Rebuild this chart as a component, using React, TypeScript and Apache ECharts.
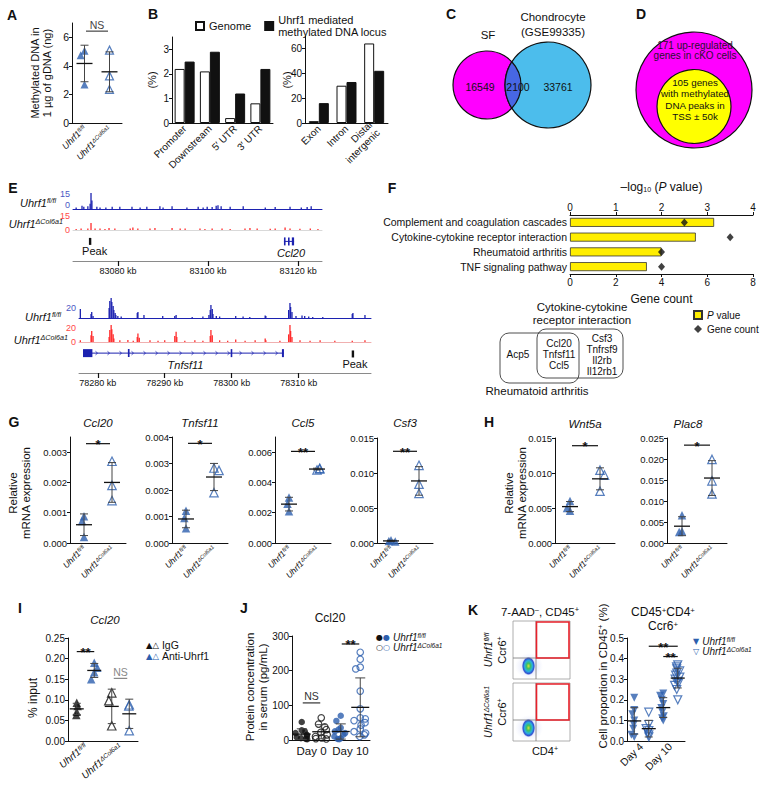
import React, { useEffect, useRef } from 'react';
import * as echarts from 'echarts';

const FONT = '"Liberation Sans", Arial, Helvetica, sans-serif';
const SYMFONT = '"DejaVu Sans", "Liberation Sans", sans-serif';
const INK = '#111111';
const BLUE = '#2d5fae';
const TRACK_BLUE = '#1c22b0';
const TRACK_RED = '#ff2b2b';

/* ---------- Panel A ---------- */
const genotypes = ['fl', 'cko'];
const methylDnaFl = [5.05, 4.75, 2.7];
const methylDnaCko = [5.1, 3.3, 2.35];

/* ---------- Panel B ---------- */
const regionsB1 = ['Promoter', 'Downstream', '5′ UTR', '3′ UTR'];
const genomeB1 = [2.2, 2.1, 0.2, 0.8];
const methylB1 = [2.5, 2.9, 1.2, 2.2];
const regionsB2 = ['Exon', 'Intron', 'Distal\nintergenic'];
const genomeB2 = [1.5, 30, 64];
const methylB2 = [16, 33, 42];
const METH_NAME = 'Uhrf1 mediated\nmethylated DNA locus';

/* ---------- Panel C / D ---------- */
const vennSfOnly = 16549;
const vennShared = 2100;
const vennChondroOnly = 33761;
const upGenesCount = 171;
const methGenesCount = 105;

/* ---------- Panel E (tracks: [kb, signal]) ---------- */
const ccl20FlTrack: [number, number][] = [
  [83070.7, 1.5], [83072.0, 3], [83072.4, 2], [83073.3, 2.5], [83073.8, 5], [83074.0, 15], [83074.2, 8],
  [83075.3, 2], [83076.0, 1.5], [83077.3, 1.5], [83078.7, 2], [83080.4, 2], [83083.1, 2], [83084.9, 1.5],
  [83086.4, 2], [83089.3, 2.5], [83090.0, 1.5], [83092.0, 2.5], [83095.3, 1.5], [83097.8, 2], [83098.9, 1.5],
  [83099.8, 2], [83100.9, 1.8], [83101.8, 3], [83102.2, 3.5], [83102.9, 2.5], [83104.9, 2], [83107.8, 2.5],
  [83112.7, 1.5], [83114.9, 1.8], [83118.2, 2], [83120.7, 1.5], [83122.0, 1.8], [83122.9, 2.5],
];
const ccl20CkoTrack: [number, number][] = [
  [83070.7, 1], [83071.8, 1.5], [83073.3, 1.5], [83074.0, 7], [83074.9, 1.5], [83076.0, 1.5], [83077.1, 1],
  [83078.0, 2], [83079.3, 1.5], [83082.7, 1.5], [83083.3, 2.5], [83084.4, 1.5], [83087.1, 1.5], [83088.2, 2],
  [83092.0, 2], [83093.8, 1.5], [83094.9, 1.5], [83098.2, 1.5], [83099.3, 1], [83100.9, 1.5], [83103.1, 1.5],
  [83104.9, 1], [83108.2, 1.5], [83109.3, 2], [83110.9, 1.5], [83113.8, 1.2], [83114.9, 1.5], [83117.1, 2.5],
  [83118.2, 1.5], [83120.4, 1.2], [83122.7, 1.5], [83124.4, 1],
];
const tnfsf11FlTrack: [number, number][] = [
  [78277.4, 9], [78279.0, 4], [78279.1, 6], [78279.3, 2],
  [78281.7, 10], [78281.8, 17], [78282.0, 20], [78282.1, 16], [78282.3, 12], [78282.4, 8], [78282.6, 5], [78282.7, 3],
  [78283.0, 2], [78283.5, 1.5], [78285.9, 5], [78286.0, 6], [78286.9, 3], [78289.7, 2], [78291.5, 2], [78291.7, 3],
  [78294.1, 1], [78295.7, 1.5], [78296.6, 3], [78296.8, 8], [78296.9, 13], [78297.1, 9], [78297.2, 4], [78297.7, 2],
  [78298.2, 1.5], [78300.6, 2], [78301.7, 1.5], [78302.7, 1], [78305.0, 2.5], [78305.1, 2],
  [78308.5, 8], [78308.7, 15], [78308.8, 11], [78309.0, 6], [78309.6, 2], [78310.5, 2.5], [78310.9, 2],
  [78311.5, 1.5], [78312.1, 1], [78313.6, 1], [78318.0, 4], [78318.1, 5], [78319.9, 3],
];
const tnfsf11CkoTrack: [number, number][] = [
  [78277.4, 2], [78279.0, 8], [78279.1, 13], [78279.3, 7],
  [78281.7, 6], [78281.8, 14], [78282.0, 20], [78282.1, 15], [78282.3, 9], [78282.4, 4],
  [78283.3, 2], [78284.5, 2.5], [78285.3, 1.5], [78285.9, 6], [78286.0, 10], [78286.2, 5],
  [78287.8, 2], [78289.0, 1.5], [78290.0, 2], [78291.5, 7], [78291.7, 12], [78291.8, 6],
  [78293.0, 1.5], [78294.5, 2], [78295.7, 1.5], [78296.8, 7], [78296.9, 14], [78297.1, 8],
  [78298.2, 2], [78299.4, 1.5], [78300.6, 3], [78302.0, 1.5], [78303.5, 2], [78305.0, 4], [78305.1, 2],
  [78307.2, 1.5], [78308.5, 9], [78308.7, 20], [78308.8, 13], [78309.0, 6],
  [78310.2, 2], [78311.7, 1.5], [78313.2, 2], [78315.4, 1.5], [78318.0, 1.5], [78319.9, 2],
];
const ccl20Gene = { name: 'Ccl20', start: 83116.85, end: 83119.1, exons: [[83116.85, 83117.05], [83117.75, 83117.95], [83118.6, 83119.1]] };
const tnfsf11Gene = { name: 'Tnfsf11', start: 78277.8, end: 78307.8, exons: [[78277.8, 78279.2], [78284.5, 78284.75], [78299.85, 78300.05], [78307.5, 78307.8]] };
const ccl20Peak = 83073.8;
const tnfsf11Peak = 78318.1;
const ccl20Ticks = [83080, 83100, 83120];
const tnfsf11Ticks = [78280, 78290, 78300, 78310];

/* ---------- Panel F ---------- */
const pathways = ['Complement and coagulation cascades', 'Cytokine-cytokine receptor interaction', 'Rheumatoid arthritis', 'TNF signaling pathway'];
const negLogP = [3.15, 2.75, 2.0, 1.68];
const geneCounts = [5, 7, 4, 4];
const raOnlyGenes = ['Acp5'];
const sharedGenes = ['Ccl20', 'Tnfsf11', 'Ccl5'];
const cytokineOnlyGenes = ['Csf3', 'Tnfrsf9', 'Il2rb', 'Il12rb1'];

/* ---------- Panel G ---------- */
const gGenes = ['Ccl20', 'Tnfsf11', 'Ccl5', 'Csf3'];
const gFl = [[0.00088, 0.00073, 0.0002], [0.00122, 0.00094, 0.00056], [0.003, 0.0026, 0.0021], [0.0004, 0.0003, 0.0002]];
const gCko = [[0.0027, 0.0019, 0.0014], [0.00283, 0.00274, 0.0019], [0.00482, 0.0049, 0.00493], [0.0111, 0.0084, 0.0071]];
const gSig = ['*', '*', '**', '**'];
const gSigY = [0.00328, 0.00376, 0.00605, 0.0131];
const gMax = [0.0035, 0.004, 0.007, 0.015];
const gTicks = [[0, 0.001, 0.002, 0.003], [0, 0.001, 0.002, 0.003, 0.004], [0, 0.002, 0.004, 0.006], [0, 0.005, 0.01, 0.015]];

/* ---------- Panel H ---------- */
const hGenes = ['Wnt5a', 'Plac8'];
const hFl = [[0.006, 0.0046, 0.005], [0.0066, 0.0028, 0.0026]];
const hCko = [[0.0104, 0.0097, 0.0074], [0.0199, 0.0148, 0.0117]];
const hSig = ['*', '*'];
const hSigY = [0.0139, 0.0233];
const hMax = [0.015, 0.025];
const hTicks = [[0, 0.005, 0.01, 0.015], [0, 0.005, 0.01, 0.015, 0.02, 0.025]];

/* ---------- Panel I ---------- */
const iIgGFl = [0.093, 0.085, 0.071, 0.063];
const iAntiFl = [0.19, 0.178, 0.167, 0.15];
const iIgGCko = [0.117, 0.098, 0.037];
const iAntiCko = [0.088, 0.085, 0.025];
const iTicks = [0, 0.05, 0.1, 0.15, 0.2, 0.25];

/* ---------- Panel J ---------- */
const jDays = ['Day 0', 'Day 10'];
const jDay0Fl = [52, 28, 25, 20, 15, 12, 8, 5, 3, 2];
const jDay0Cko = [64, 46, 38, 30, 22, 15, 10, 6, 4, 3];
const jDay10Fl = [70, 55, 35, 30, 25, 20, 15, 10, 5, 3, 2];
const jDay10Cko = [253, 233, 210, 205, 141, 90, 64, 61, 56, 50, 43, 32, 24, 20, 15, 10];
const jTicks = [0, 100, 200, 300];

/* ---------- Panel K ---------- */
const kDays = ['Day 4', 'Day 10'];
const kDay4Fl = [0.21, 0.15, 0.13, 0.1, 0.08, 0.06, 0.03, 0.02];
const kDay4Cko = [0.14, 0.08, 0.06, 0.05, 0.04, 0.03, 0.02];
const kDay10Fl = [0.23, 0.22, 0.2, 0.18, 0.16, 0.14, 0.12, 0.11, 0.1];
const kDay10Cko = [0.37, 0.36, 0.35, 0.34, 0.33, 0.32, 0.31, 0.3, 0.29, 0.28, 0.27, 0.25, 0.2];
const kTicks = [0, 0.1, 0.2, 0.3, 0.4, 0.5];

/* ---------- helpers ---------- */
const mean = (a: number[]) => a.reduce((s, v) => s + v, 0) / a.length;
const sd = (a: number[]) => {
  const m = mean(a);
  return Math.sqrt(a.reduce((s, v) => s + (v - m) * (v - m), 0) / (a.length - 1));
};
const genoLabel = (v: string) => (v === 'fl' ? '{i|Uhrf1}{s|fl/fl}' : '{i|Uhrf1}{s|ΔCol6a1}');

/* Venn lens shape */
const sfCircle = { cx: 487, cy: 85, r: 34 };
const chCircle = { cx: 548, cy: 85, r: 43 };
(() => {
  const dd = chCircle.cx - sfCircle.cx;
  const a = (dd * dd + sfCircle.r * sfCircle.r - chCircle.r * chCircle.r) / (2 * dd);
  const h = Math.sqrt(sfCircle.r * sfCircle.r - a * a);
  const ix = sfCircle.cx + a;
  const d = `M ${ix} ${sfCircle.cy - h} A ${chCircle.r} ${chCircle.r} 0 0 0 ${ix} ${sfCircle.cy + h} A ${sfCircle.r} ${sfCircle.r} 0 0 0 ${ix} ${sfCircle.cy - h} Z`;
  echarts.graphic.registerShape('vennLens', echarts.graphic.extendPath(d, {}) as any);
})();

function buildOption() {
  const grid: any[] = [];
  const xAxis: any[] = [];
  const yAxis: any[] = [];
  const series: any[] = [];
  const graphic: any[] = [];

  const G = (left: number, top: number, width: number, height: number) => {
    grid.push({ left, top, width, height });
    return grid.length - 1;
  };
  const X = (o: any) => {
    xAxis.push(o);
    return xAxis.length - 1;
  };
  const Y = (o: any) => {
    yAxis.push(o);
    return yAxis.length - 1;
  };

  const valueY = (gi: number, max: number, ticks: number[], fmt: (v: number) => string, fs = 10) =>
    Y({
      type: 'value', gridIndex: gi, min: 0, max,
      axisLine: { show: true, lineStyle: { color: INK, width: 1 } },
      axisTick: { show: true, length: 3, customValues: ticks, lineStyle: { color: INK } },
      axisLabel: { customValues: ticks, formatter: fmt, fontSize: fs, color: INK, margin: 3, fontFamily: FONT },
      splitLine: { show: false },
    });

  const genoAxisLabel = (fs: number, rotate = 45) => ({
    interval: 0, rotate, fontSize: fs, margin: 4, formatter: genoLabel, color: INK,
    rich: {
      i: { fontStyle: 'italic', fontSize: fs, fontFamily: FONT, color: INK },
      s: { fontStyle: 'italic', fontSize: fs * 0.65, fontFamily: FONT, color: INK, verticalAlign: 'top' },
    },
  });

  const catX = (gi: number, data: string[], axisLabel: any, extra: any = {}) =>
    X({
      type: 'category', gridIndex: gi, data, position: 'bottom',
      axisLine: { show: true, lineStyle: { color: INK, width: 1 } },
      axisTick: { show: false }, splitLine: { show: false },
      axisLabel: { interval: 0, color: INK, fontFamily: FONT, ...axisLabel },
      ...extra,
    });
  const hiddenCat = (gi: number, jitter: number) =>
    X({ type: 'category', gridIndex: gi, position: 'bottom', data: ['a', 'b', 'c', 'd'], show: false, jitter, jitterOverlap: false, jitterMargin: 0.3 });

  const dots = (xi: number, yi: number, cat: number, values: number[], o: any) =>
    series.push({
      type: 'scatter', xAxisIndex: xi, yAxisIndex: yi, silent: true, z: 3,
      symbol: o.symbol, symbolSize: o.size, symbolRotate: o.rotate || 0,
      itemStyle: o.open ? { color: 'rgba(255,255,255,0)', borderColor: o.color, borderWidth: 1.2 } : { color: o.color },
      data: values.map((v) => [cat, v]),
    });

  const errBar = (xi: number, yi: number, cat: number, values: number[], halfMean: number, halfCap: number) =>
    series.push({
      type: 'custom', xAxisIndex: xi, yAxisIndex: yi, silent: true, z: 4, clip: false,
      data: [[cat, mean(values), sd(values)]],
      encode: { x: 0, y: 1 },
      renderItem: (_p: any, api: any) => {
        const x = api.value(0), m = api.value(1), s = api.value(2);
        const c = api.coord([x, m]);
        const t = api.coord([x, m + s]);
        const b = api.coord([x, m - s]);
        const st = { stroke: '#444', lineWidth: 1 };
        return {
          type: 'group',
          children: [
            { type: 'line', shape: { x1: c[0], y1: t[1], x2: c[0], y2: b[1] }, style: st },
            { type: 'line', shape: { x1: c[0] - halfCap, y1: t[1], x2: c[0] + halfCap, y2: t[1] }, style: st },
            { type: 'line', shape: { x1: c[0] - halfCap, y1: b[1], x2: c[0] + halfCap, y2: b[1] }, style: st },
            { type: 'line', shape: { x1: c[0] - halfMean, y1: c[1], x2: c[0] + halfMean, y2: c[1] }, style: { stroke: INK, lineWidth: 1.3 } },
          ],
        };
      },
    });

  const sigBar = (xi: number, yi: number, x1: number, x2: number, yv: number, text: string, color: string, inset: number) =>
    series.push({
      type: 'custom', xAxisIndex: xi, yAxisIndex: yi, silent: true, z: 5, clip: false,
      data: [[x1, x2, yv]],
      encode: { x: [0, 1], y: 2 },
      renderItem: (_p: any, api: any) => {
        const p1 = api.coord([api.value(0), api.value(2)]);
        const p2 = api.coord([api.value(1), api.value(2)]);
        const star = text.indexOf('*') >= 0;
        return {
          type: 'group',
          children: [
            { type: 'line', shape: { x1: p1[0] + inset, y1: p1[1], x2: p2[0] - inset, y2: p2[1] }, style: { stroke: color, lineWidth: 1.2 } },
            {
              type: 'text', x: (p1[0] + p2[0]) / 2, y: p1[1] + (star ? 1 : -6.5),
              style: { text, fill: color, fontSize: star ? 13 : 10.5, fontWeight: star ? 'bold' : 'normal', fontFamily: FONT, align: 'center', verticalAlign: 'middle' },
            },
          ],
        };
      },
    });

  const T = (x: number, y: number, text: string, o: any = {}) => {
    const { rotation, ...style } = o;
    graphic.push({
      type: 'text', x, y, rotation: rotation || 0, silent: true, z: 10,
      style: { text, fill: INK, fontSize: 11, fontFamily: FONT, align: 'center', verticalAlign: 'middle', ...style },
    });
  };
  const gRich = (fs: number) => ({
    i: { fontStyle: 'italic', fontSize: fs, fill: INK, fontFamily: FONT },
    s: { fontStyle: 'italic', fontSize: fs * 0.65, fill: INK, fontFamily: FONT, verticalAlign: 'top' },
    sup: { fontSize: fs * 0.65, fill: INK, fontFamily: FONT, verticalAlign: 'top' },
    n: { fontSize: fs, fill: INK, fontFamily: FONT },
    sk: { fontSize: fs * 0.8, fill: INK, fontFamily: SYMFONT },
    sb: { fontSize: fs * 0.8, fill: BLUE, fontFamily: SYMFONT },
  });

  /* panel letters */
  const letters: [string, number, number][] = [
    ['A', 12, 15], ['B', 153, 14], ['C', 451, 14], ['D', 641, 14], ['E', 13, 188], ['F', 392, 188],
    ['G', 14, 422], ['H', 489, 422], ['I', 20, 608], ['J', 244, 608], ['K', 473, 610],
  ];
  letters.forEach(([l, x, y]) => T(x, y, l, { fontSize: 14, fontWeight: 'bold' }));

  /* ===== A ===== */
  const gA = G(72, 23, 50, 100);
  const xA = catX(gA, genotypes, genoAxisLabel(9), { jitter: 12, jitterOverlap: false, jitterMargin: 0.5 });
  const yA = valueY(gA, 7, [0, 2, 4, 6], (v) => String(v), 10.5);
  dots(xA, yA, 0, methylDnaFl, { symbol: 'triangle', size: 8, color: BLUE });
  dots(xA, yA, 1, methylDnaCko, { symbol: 'triangle', size: 8, color: BLUE, open: true });
  errBar(xA, yA, 0, methylDnaFl, 8, 4);
  errBar(xA, yA, 1, methylDnaCko, 8, 4);
  sigBar(xA, yA, 0, 1, 6.43, 'NS', '#444', 1.5);
  T(41, 73, 'Methylated DNA in\n1 µg of gDNA (ng)', { rotation: Math.PI / 2, fontSize: 11, lineHeight: 12.5 });

  /* ===== B ===== */
  const gB1 = G(172, 37, 101, 86);
  const xB1 = catX(gB1, regionsB1, { rotate: 45, fontSize: 10, margin: 4 });
  const yB1 = valueY(gB1, 3.5, [0, 1, 2, 3], (v) => String(v), 10);
  const gB2 = G(305, 36, 83, 87);
  const xB2 = catX(gB2, regionsB2, { rotate: 45, fontSize: 10, margin: 4, lineHeight: 11 });
  const yB2 = valueY(gB2, 70, [0, 20, 40, 60], (v) => String(v), 10);
  [[xB1, yB1, genomeB1, methylB1], [xB2, yB2, genomeB2, methylB2]].forEach(([xi, yi, gd, md]: any) => {
    series.push({ type: 'bar', name: 'Genome', xAxisIndex: xi, yAxisIndex: yi, data: gd, barWidth: 10, barGap: '0%', silent: true, itemStyle: { color: '#ffffff', borderColor: INK, borderWidth: 1 } });
    series.push({ type: 'bar', name: METH_NAME, xAxisIndex: xi, yAxisIndex: yi, data: md, barWidth: 10, barGap: '0%', silent: true, itemStyle: { color: INK, borderColor: INK, borderWidth: 1 } });
  });
  T(152, 80, '(%)', { rotation: Math.PI / 2, fontSize: 11 });
  T(287, 80, '(%)', { rotation: Math.PI / 2, fontSize: 11 });

  /* ===== C ===== */
  graphic.push({ type: 'circle', silent: true, shape: { ...sfCircle }, style: { fill: '#ff00ff', stroke: INK, lineWidth: 1.2 } });
  graphic.push({ type: 'circle', silent: true, shape: { ...chCircle }, style: { fill: '#4cbdec', stroke: INK, lineWidth: 1.2 } });
  graphic.push({ type: 'vennLens', silent: true, x: 0, y: 0, style: { fill: '#4767e4', stroke: INK, lineWidth: 1.2 } });
  T(488, 35, 'SF', { fontSize: 11.5 });
  T(553, 17, 'Chondrocyte', { fontSize: 11.5 });
  T(553, 32, '(GSE99335)', { fontSize: 11.5 });
  T(480, 87, String(vennSfOnly), { fontSize: 10.5 });
  T(518, 87, String(vennShared), { fontSize: 10.5 });
  T(558, 87, String(vennChondroOnly), { fontSize: 10.5 });

  /* ===== D ===== */
  graphic.push({ type: 'circle', silent: true, shape: { cx: 694, cy: 90, r: 58 }, style: { fill: '#ff00ff', stroke: INK, lineWidth: 1.2 } });
  graphic.push({ type: 'circle', silent: true, shape: { cx: 694, cy: 106.5, r: 37 }, style: { fill: '#ffff00', stroke: INK, lineWidth: 1.2 } });
  T(695, 45, `${upGenesCount} up-regulated`, { fontSize: 10, fill: '#2a1030' });
  T(695, 55.5, 'genes in cKO cells', { fontSize: 10, fill: '#2a1030' });
  T(695, 82, `${methGenesCount} genes`, { fontSize: 9.8 });
  T(695, 93.5, 'with methylated', { fontSize: 9.8 });
  T(695, 105, 'DNA peaks in', { fontSize: 9.8 });
  T(695, 116.5, 'TSS ± 50k', { fontSize: 9.8 });

  /* ===== E ===== */
  const track = (left: number, top: number, width: number, height: number, min: number, max: number, ymax: number, data: [number, number][], color: string, baseColor: string, labelColor: string, zeroUp: number, maxDown: number) => {
    const gi = G(left, top, width, height);
    const xi = X({ type: 'value', gridIndex: gi, min, max, axisLine: { show: true, onZero: false, lineStyle: { color: baseColor, width: 1 } }, axisTick: { show: false }, axisLabel: { show: false }, splitLine: { show: false } });
    const yi = Y({
      type: 'value', gridIndex: gi, min: 0, max: ymax, axisLine: { show: false }, axisTick: { show: false }, splitLine: { show: false },
      axisLabel: {
        customValues: [0, ymax], color: labelColor, fontSize: 9, margin: 3, fontFamily: FONT,
        formatter: (v: number) => (v === 0 ? '{z|0}' : `{m|${v}}`),
        rich: {
          z: { lineHeight: 10 + 2 * zeroUp, verticalAlign: 'top', fontSize: 9, color: labelColor, fontFamily: FONT },
          m: { lineHeight: 10 + 2 * maxDown, verticalAlign: 'bottom', fontSize: 9, color: labelColor, fontFamily: FONT },
        },
      },
    });
    series.push({ type: 'bar', xAxisIndex: xi, yAxisIndex: yi, data, barWidth: 1.3, silent: true, itemStyle: { color } });
  };
  const geneGrid = (left: number, top: number, width: number, height: number, min: number, max: number, ticks: number[]) => {
    const gi = G(left, top, width, height);
    const xi = X({
      type: 'value', gridIndex: gi, min, max,
      axisLine: { show: true, onZero: false, lineStyle: { color: '#8a8a8a', width: 1 } },
      axisTick: { show: true, customValues: ticks, length: 5, lineStyle: { color: INK, width: 1.2 } },
      axisLabel: { customValues: ticks, formatter: (v: number) => `${v} kb`, fontSize: 9, color: INK, margin: 5, fontFamily: FONT },
      splitLine: { show: false },
    });
    const yi = Y({ type: 'value', gridIndex: gi, min: 0, max: 1, show: false });
    return { xi, yi };
  };
  const geneSeries = (xi: number, yi: number, gene: any, yv: number, arrows: boolean) =>
    series.push({
      type: 'custom', xAxisIndex: xi, yAxisIndex: yi, silent: true, clip: false,
      data: [[gene.start, gene.end, yv]], encode: { x: [0, 1], y: 2 },
      renderItem: (_p: any, api: any) => {
        const p0 = api.coord([api.value(0), api.value(2)]);
        const p1 = api.coord([api.value(1), api.value(2)]);
        const children: any[] = [{ type: 'line', shape: { x1: p0[0], y1: p0[1], x2: p1[0], y2: p1[1] }, style: { stroke: TRACK_BLUE, lineWidth: 1 } }];
        gene.exons.forEach(([s, e]: number[]) => {
          const a = api.coord([s, api.value(2)])[0];
          const b = api.coord([e, api.value(2)])[0];
          children.push({ type: 'rect', shape: { x: a, y: p0[1] - 4, width: Math.max(1.6, b - a), height: 8 }, style: { fill: TRACK_BLUE } });
        });
        if (arrows) {
          for (let x = p0[0] + 14; x < p1[0] - 4; x += 12) {
            children.push({ type: 'polyline', shape: { points: [[x - 1.5, p0[1] - 1.8], [x + 0.5, p0[1]], [x - 1.5, p0[1] + 1.8]] }, style: { stroke: TRACK_BLUE, lineWidth: 0.8, fill: 'none' } });
          }
        }
        children.push({ type: 'text', x: (p0[0] + p1[0]) / 2 + 2, y: p0[1] + 12, style: { text: gene.name, fontStyle: 'italic', fontSize: 11, fill: INK, fontFamily: FONT, align: 'center', verticalAlign: 'middle' } });
        return { type: 'group', children };
      },
    });
  const peakSeries = (xi: number, yi: number, kb: number, yv: number, textAlign: string, dx: number) =>
    series.push({
      type: 'custom', xAxisIndex: xi, yAxisIndex: yi, silent: true, clip: false,
      data: [[kb, yv]], encode: { x: 0, y: 1 },
      renderItem: (_p: any, api: any) => {
        const c = api.coord([api.value(0), api.value(1)]);
        return {
          type: 'group',
          children: [
            { type: 'rect', shape: { x: c[0] - 1.2, y: c[1] - 3.5, width: 2.4, height: 7 }, style: { fill: INK } },
            { type: 'text', x: c[0] + dx, y: c[1] + 10, style: { text: 'Peak', fontSize: 11, fill: INK, fontFamily: FONT, align: textAlign, verticalAlign: 'middle' } },
          ],
        };
      },
    });

  track(73, 193, 249, 16, 83070, 83125.3, 15, ccl20FlTrack, TRACK_BLUE, TRACK_BLUE, '#4a58c4', 4, 0);
  track(73, 215, 249, 15, 83070, 83125.3, 15, ccl20CkoTrack, TRACK_RED, '#d9d9d9', '#ff4848', 0, 0);
  const eg1 = geneGrid(73, 233, 249, 28, 83070, 83125.3, ccl20Ticks);
  geneSeries(eg1.xi, eg1.yi, ccl20Gene, 0.7, false);
  peakSeries(eg1.xi, eg1.yi, ccl20Peak, 0.7, 'left', -8);
  track(79, 298, 292, 20, 78277.2, 78320.8, 20, tnfsf11FlTrack, TRACK_BLUE, TRACK_BLUE, '#4a58c4', 1.5, 9);
  track(79, 325, 292, 17, 78277.2, 78320.8, 20, tnfsf11CkoTrack, TRACK_RED, '#f0b0b0', '#ff4848', 0, 2);
  const eg2 = geneGrid(79, 345, 292, 28, 78277.2, 78320.8, tnfsf11Ticks);
  geneSeries(eg2.xi, eg2.yi, tnfsf11Gene, 0.71, true);
  peakSeries(eg2.xi, eg2.yi, tnfsf11Peak, 0.68, 'center', 2);

  T(56, 203, '{i|Uhrf1}{s|fl/fl}', { align: 'right', rich: gRich(11) });
  T(63, 224, '{i|Uhrf1}{s|ΔCol6a1}', { align: 'right', rich: gRich(11) });
  T(61, 317, '{i|Uhrf1}{s|fl/fl}', { align: 'right', rich: gRich(11) });
  T(68, 340, '{i|Uhrf1}{s|ΔCol6a1}', { align: 'right', rich: gRich(11) });

  /* ===== F ===== */
  const gF = G(570, 215, 183, 59);
  const axisCommon = { axisLine: { show: true, lineStyle: { color: INK } }, axisTick: { show: true, length: 3, lineStyle: { color: INK } }, splitLine: { show: false } };
  const xFc = X({ type: 'value', gridIndex: gF, position: 'bottom', min: 0, max: 8, interval: 2, ...axisCommon, axisLabel: { fontSize: 10, color: INK, margin: 3, fontFamily: FONT }, name: 'Gene count', nameLocation: 'middle', nameGap: 19, nameTextStyle: { fontSize: 12, color: INK, fontFamily: FONT } });
  const xFp = X({
    type: 'value', gridIndex: gF, position: 'top', min: 0, max: 4, interval: 1, ...axisCommon,
    axisLabel: { fontSize: 10, color: INK, margin: 3, fontFamily: FONT },
    name: '–log{sub|10} ({ip|P} value)', nameLocation: 'middle', nameGap: 22,
    nameTextStyle: { fontSize: 12, color: INK, fontFamily: FONT, rich: { sub: { fontSize: 7, verticalAlign: 'bottom', color: INK, fontFamily: FONT }, ip: { fontStyle: 'italic', fontSize: 12, color: INK, fontFamily: FONT } } },
  });
  const yF = Y({ type: 'category', gridIndex: gF, data: pathways, inverse: true, axisLine: { show: false }, axisTick: { show: false }, splitLine: { show: false }, axisLabel: { fontSize: 10.5, color: INK, margin: 3, fontFamily: FONT } });
  series.push({ type: 'bar', name: 'P value', xAxisIndex: xFp, yAxisIndex: yF, data: negLogP, barWidth: 9, silent: true, itemStyle: { color: '#ffee00', borderColor: '#333', borderWidth: 0.8 } });
  series.push({ type: 'scatter', name: 'Gene count', xAxisIndex: xFc, yAxisIndex: yF, data: geneCounts.map((v, i) => [v, i]), symbol: 'diamond', symbolSize: [7, 8], silent: true, z: 5, itemStyle: { color: INK } });

  graphic.push({ type: 'rect', silent: true, shape: { x: 500, y: 333, width: 79, height: 50, r: 9 }, style: { fill: 'none', stroke: '#222', lineWidth: 0.8 } });
  graphic.push({ type: 'rect', silent: true, shape: { x: 537, y: 329, width: 86, height: 49, r: 9 }, style: { fill: 'none', stroke: '#222', lineWidth: 0.8 } });
  T(582, 307, 'Cytokine-cytokine', { fontSize: 11.5 });
  T(582, 320, 'receptor interaction', { fontSize: 11.5 });
  T(518, 354, raOnlyGenes.join('\n'), { fontSize: 10 });
  T(559, 354, sharedGenes.join('\n'), { fontSize: 10, lineHeight: 11 });
  T(602, 355, cytokineOnlyGenes.join('\n'), { fontSize: 10, lineHeight: 10.7 });
  T(537, 391, 'Rheumatoid arthritis', { fontSize: 11.5 });

  /* ===== G ===== */
  const gLefts = [70, 172, 275, 377];
  gGenes.forEach((name, k) => {
    const gi = G(gLefts[k], k === 3 ? 438 : 437, 56, k === 3 ? 105 : 106);
    const xi = catX(gi, genotypes, genoAxisLabel(8.5), { jitter: 10, jitterOverlap: false, jitterMargin: 0.5 });
    const yi = valueY(gi, gMax[k], gTicks[k], (v) => v.toFixed(3), 9.5);
    dots(xi, yi, 0, gFl[k], { symbol: 'triangle', size: 8.5, color: BLUE });
    dots(xi, yi, 1, gCko[k], { symbol: 'triangle', size: 8.5, color: BLUE, open: true });
    errBar(xi, yi, 0, gFl[k], 8, 4);
    errBar(xi, yi, 1, gCko[k], 8, 4);
    sigBar(xi, yi, 0, 1, gSigY[k], gSig[k], INK, 2);
    T(gLefts[k] + 28, 423, name, { fontStyle: 'italic', fontSize: 11.5 });
  });
  T(19, 493, 'Relative\nmRNA expression', { rotation: Math.PI / 2, fontSize: 11.5, lineHeight: 13 });

  /* ===== H ===== */
  const hLefts = [555, 667];
  const hTitleX = [585, 688];
  hGenes.forEach((name, k) => {
    const gi = G(hLefts[k], 438, 60, 105);
    const xi = catX(gi, genotypes, genoAxisLabel(8.5), { jitter: 10, jitterOverlap: false, jitterMargin: 0.5 });
    const yi = valueY(gi, hMax[k], hTicks[k], (v) => v.toFixed(3), 9.5);
    dots(xi, yi, 0, hFl[k], { symbol: 'triangle', size: 8.5, color: BLUE });
    dots(xi, yi, 1, hCko[k], { symbol: 'triangle', size: 8.5, color: BLUE, open: true });
    errBar(xi, yi, 0, hFl[k], 8, 4);
    errBar(xi, yi, 1, hCko[k], 8, 4);
    sigBar(xi, yi, 0, 1, hSigY[k], hSig[k], INK, 2);
    T(hTitleX[k], 424, name, { fontStyle: 'italic', fontSize: 11.5 });
  });
  T(515, 493, 'Relative\nmRNA expression', { rotation: Math.PI / 2, fontSize: 11.5, lineHeight: 13 });

  /* ===== I ===== */
  const gI = G(68, 638, 70, 103);
  const xI4 = hiddenCat(gI, 8);
  catX(gI, genotypes, genoAxisLabel(10, 40));
  const yI = valueY(gI, 0.25, iTicks, (v) => v.toFixed(2), 10);
  dots(xI4, yI, 0, iIgGFl, { symbol: 'triangle', size: 8.5, color: INK });
  dots(xI4, yI, 1, iAntiFl, { symbol: 'triangle', size: 8.5, color: BLUE });
  dots(xI4, yI, 2, iIgGCko, { symbol: 'triangle', size: 8.5, color: INK, open: true });
  dots(xI4, yI, 3, iAntiCko, { symbol: 'triangle', size: 8.5, color: BLUE, open: true });
  [iIgGFl, iAntiFl, iIgGCko, iAntiCko].forEach((vals, k) => errBar(xI4, yI, k, vals, 7, 4));
  sigBar(xI4, yI, 0, 1, 0.217, '**', INK, 0);
  sigBar(xI4, yI, 2, 3, 0.152, 'NS', '#888', 2);
  T(105, 620, 'Ccl20', { fontStyle: 'italic', fontSize: 11.5 });
  T(33, 698, '% input', { rotation: Math.PI / 2, fontSize: 12 });
  T(146, 645, '{sk|▲}{sk|△} {n|IgG}', { align: 'left', rich: gRich(10.5) });
  T(146, 656, '{sb|▲}{sb|△} {n|Anti-Uhrf1}', { align: 'left', rich: gRich(10.5) });

  /* ===== J ===== */
  const gJ = G(292, 636, 78, 104);
  const xJ4 = hiddenCat(gJ, 16);
  catX(gJ, jDays, { fontSize: 11.5, margin: 5 });
  const yJ = valueY(gJ, 300, jTicks, (v) => String(v), 10);
  dots(xJ4, yJ, 0, jDay0Fl, { symbol: 'circle', size: 6.5, color: INK });
  dots(xJ4, yJ, 1, jDay0Cko, { symbol: 'circle', size: 6.5, color: INK, open: true });
  dots(xJ4, yJ, 2, jDay10Fl, { symbol: 'circle', size: 6.5, color: BLUE });
  dots(xJ4, yJ, 3, jDay10Cko, { symbol: 'circle', size: 6.5, color: BLUE, open: true });
  [jDay0Fl, jDay0Cko, jDay10Fl, jDay10Cko].forEach((vals, k) => errBar(xJ4, yJ, k, vals, 9, 5));
  sigBar(xJ4, yJ, 0, 1, 107, 'NS', '#333', 1);
  sigBar(xJ4, yJ, 2, 3, 277, '**', INK, 1);
  T(330, 618, 'Ccl20', { fontSize: 12 });
  T(256, 687, 'Protein concentration\nin serum (pg/mL)', { rotation: Math.PI / 2, fontSize: 11.5, lineHeight: 13 });
  T(376, 637, '{sk|●}{sb|●} {i|Uhrf1}{s|fl/fl}', { align: 'left', rich: gRich(10) });
  T(376, 647, '{sk|○}{sb|○} {i|Uhrf1}{s|ΔCol6a1}', { align: 'left', rich: gRich(10) });

  /* ===== K ===== */
  const gK = G(627, 638, 58, 103);
  const xK4 = hiddenCat(gK, 10);
  catX(gK, kDays, { rotate: 45, fontSize: 10.5, margin: 4 });
  const yK = valueY(gK, 0.5, kTicks, (v) => v.toFixed(1), 10);
  dots(xK4, yK, 0, kDay4Fl, { symbol: 'triangle', size: 8, color: BLUE, rotate: 180 });
  dots(xK4, yK, 1, kDay4Cko, { symbol: 'triangle', size: 8, color: BLUE, rotate: 180, open: true });
  dots(xK4, yK, 2, kDay10Fl, { symbol: 'triangle', size: 8, color: BLUE, rotate: 180 });
  dots(xK4, yK, 3, kDay10Cko, { symbol: 'triangle', size: 8, color: BLUE, rotate: 180, open: true });
  [kDay4Fl, kDay4Cko, kDay10Fl, kDay10Cko].forEach((vals, k) => errBar(xK4, yK, k, vals, 7, 4));
  sigBar(xK4, yK, 1, 3, 0.46, '**', INK, 0);
  sigBar(xK4, yK, 2, 3, 0.41, '**', INK, 0);
  T(663, 612, 'CD45{sup|+}CD4{sup|+}', { rich: gRich(12), fontSize: 12 });
  T(663, 626, 'Ccr6{sup|+}', { rich: gRich(12), fontSize: 12 });
  T(603, 676, 'Cell proportion in CD45{sup|+} (%)', { rotation: Math.PI / 2, rich: gRich(11.5), fontSize: 11.5 });
  T(693, 641, '{sb|▼} {i|Uhrf1}{s|fl/fl}', { align: 'left', rich: gRich(10) });
  T(693, 651, '{sb|▽} {i|Uhrf1}{s|ΔCol6a1}', { align: 'left', rich: gRich(10) });

  // flow plots
  const flowTops = [621, 683];
  flowTops.forEach((top, k) => {
    const x0 = 513, w = 57, h = 58;
    graphic.push({ type: 'rect', silent: true, shape: { x: x0, y: top, width: w, height: h }, style: { fill: '#fff', stroke: '#9a9a9a', lineWidth: 0.8 } });
    graphic.push({
      type: 'ellipse', silent: true, shape: { cx: x0 + 16, cy: top + 45, rx: 14, ry: 13 },
      style: { fill: new echarts.graphic.RadialGradient(0.5, 0.5, 0.5, [{ offset: 0, color: 'rgba(110,130,230,0.35)' }, { offset: 1, color: 'rgba(160,175,240,0)' }]) },
    });
    graphic.push({
      type: 'ellipse', silent: true, shape: { cx: x0 + 15.5, cy: top + 45, rx: 6.5, ry: 9 },
      style: { fill: new echarts.graphic.RadialGradient(0.5, 0.5, 0.5, [{ offset: 0, color: '#d8e040' }, { offset: 0.3, color: '#3cc060' }, { offset: 0.6, color: '#2ab0e0' }, { offset: 0.85, color: '#2f4fd0' }, { offset: 1, color: 'rgba(90,110,220,0.3)' }]) },
    });
    graphic.push({ type: 'line', silent: true, shape: { x1: x0 + 23, y1: top, x2: x0 + 23, y2: top + h }, style: { stroke: '#777', lineWidth: 0.8 } });
    graphic.push({ type: 'line', silent: true, shape: { x1: x0, y1: top + 37, x2: x0 + w, y2: top + 37 }, style: { stroke: '#777', lineWidth: 0.8 } });
    graphic.push({ type: 'rect', silent: true, shape: { x: x0 + 23.5, y: top + 1, width: 32.5, height: 36 }, style: { fill: 'none', stroke: '#e8202a', lineWidth: 1.6 } });
    const geno = k === 0 ? '{i|Uhrf1}{s|fl/fl}' : '{i|Uhrf1}{s|ΔCol6a1}';
    T(488, top + 29, geno, { rotation: Math.PI / 2, rich: gRich(10.5) });
    T(502, top + 29, 'Ccr6{sup|+}', { rotation: Math.PI / 2, rich: gRich(11), fontSize: 11 });
  });
  T(540, 612, '7-AAD{sup|–}, CD45{sup|+}', { rich: gRich(11.5), fontSize: 11.5 });
  T(545, 751, 'CD4{sup|+}', { rich: gRich(11), fontSize: 11 });

  return {
    animation: false,
    backgroundColor: '#ffffff',
    textStyle: { fontFamily: FONT },
    legend: [
      {
        left: 190, top: 9, itemWidth: 8, itemHeight: 8, itemGap: 13, icon: 'rect', selectedMode: false,
        data: ['Genome', METH_NAME],
        textStyle: { fontSize: 11, color: INK, fontFamily: FONT, lineHeight: 12 },
      },
      {
        left: 688, top: 305, orient: 'vertical', itemWidth: 8, itemHeight: 8, itemGap: 4, selectedMode: false,
        data: [{ name: 'P value', icon: 'rect' }, { name: 'Gene count', icon: 'diamond' }],
        formatter: (n: string) => (n === 'P value' ? '{ip|P} value' : n),
        textStyle: { fontSize: 10, color: INK, fontFamily: FONT, rich: { ip: { fontStyle: 'italic', fontSize: 10, color: INK, fontFamily: FONT } } },
      },
    ],
    grid, xAxis, yAxis, series, graphic,
  };
}

export default function App() {
  const ref = useRef<HTMLDivElement>(null);
  useEffect(() => {
    if (!ref.current) return;
    const chart = echarts.init(ref.current, undefined, { renderer: 'svg' });
    chart.setOption(buildOption() as any);
    return () => chart.dispose();
  }, []);
  return <div ref={ref} style={{ position: 'absolute', left: 0, top: 0, width: 764, height: 790, background: '#fff' }} />;
}
